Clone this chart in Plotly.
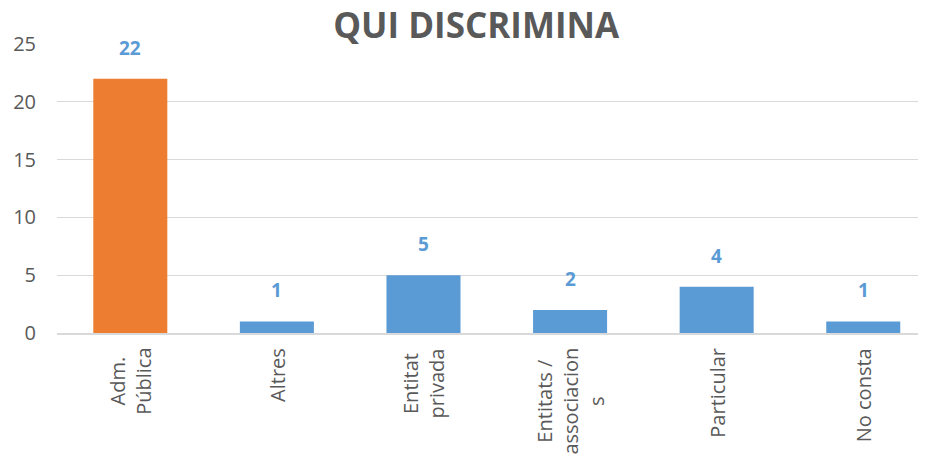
import plotly.graph_objects as go

categories = ["Adm. Pública", "Altres", "Entitat privada", "Entitats / associacions", "Particular", "No consta"]
tick_labels = ["Adm.<br>Pública", "Altres", "Entitat<br>privada", "Entitats /<br>associacion<br>s", "Particular", "No consta"]
values = [22, 1, 5, 2, 4, 1]
bar_colors = ["#ED7D31", "#5B9BD5", "#5B9BD5", "#5B9BD5", "#5B9BD5", "#5B9BD5"]
y_ticks = [0, 5, 10, 15, 20, 25]

fig = go.Figure()
fig.add_trace(go.Bar(x=categories, y=values, marker=dict(color=bar_colors, line=dict(width=0)),
                     hoverinfo="x+y"))

for c, v in zip(categories, values):
    fig.add_annotation(x=c, y=v, xref="x", yref="y", text=f"<b>{v}</b>", showarrow=False,
                       yanchor="bottom", yshift=16, font=dict(family="Open Sans", size=19, color="#5B9BD5"))

for c, t in zip(categories, tick_labels):
    fig.add_annotation(x=c, y=0, xref="x", yref="paper", text=t, showarrow=False, textangle=-90,
                       align="center", xanchor="center", yanchor="top", yshift=-13,
                       font=dict(family="Open Sans", size=20, color="#595959"))

fig.update_layout(
    width=918, height=451,
    margin=dict(l=49, r=0, t=36, b=126, autoexpand=False),
    paper_bgcolor="white", plot_bgcolor="white",
    title=dict(text="<b>QUI DISCRIMINA</b>", x=0.51, xanchor="center", y=0.96, yanchor="middle",
               font=dict(family="Open Sans", size=35, color="#595959")),
    bargap=0.495,
    showlegend=False,
    xaxis=dict(showticklabels=False, showgrid=False, zeroline=False, showline=True,
               linecolor="#D9D9D9", linewidth=1.5, ticks="", range=[-0.5, 5.428]),
    yaxis=dict(range=[0, 25], tickvals=y_ticks, showgrid=True, gridcolor="#D9D9D9", gridwidth=1.3,
               zeroline=False, showline=False, ticks="", ticklabelstandoff=20,
               tickfont=dict(family="Open Sans", size=20, color="#595959")),
)

fig.write_html("out.html")
